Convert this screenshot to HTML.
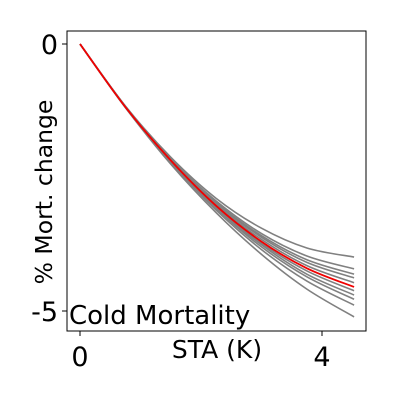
<!DOCTYPE html>
<html><head><meta charset="utf-8"><style>
body{margin:0;background:#fff}
svg{display:block;font-family:"DejaVu Sans","Liberation Sans",sans-serif}
</style></head><body>
<svg id="chart" width="400" height="400" viewBox="0 0 400 400">
<rect x="67" y="31" width="299" height="300" fill="none" stroke="#000" stroke-width="1"/>
<g id="marks"></g>
<g id="axes"></g>
<text x="69" y="324" font-size="26">Cold Mortality</text>
<text x="217" y="358" font-size="25" text-anchor="middle">STA (K)</text>
<text transform="translate(52,192) rotate(-90)" font-size="23.5" text-anchor="middle">% Mort. change</text>
</svg>
<script>
const xValues = [0, 0.75, 1.5, 2.25, 3, 3.75, 4.53];
const greySeries = [
 [0,-1.16,-2.12,-2.89,-3.45,-3.82,-3.99],
 [0,-1.17,-2.15,-2.94,-3.55,-3.97,-4.21],
 [0,-1.17,-2.16,-2.97,-3.59,-4.04,-4.31],
 [0,-1.17,-2.17,-2.98,-3.62,-4.09,-4.38],
 [0,-1.17,-2.18,-3.01,-3.66,-4.15,-4.47],
 [0,-1.18,-2.19,-3.04,-3.73,-4.25,-4.62],
 [0,-1.18,-2.20,-3.06,-3.76,-4.31,-4.70],
 [0,-1.18,-2.21,-3.08,-3.80,-4.36,-4.78],
 [0,-1.19,-2.22,-3.11,-3.85,-4.44,-4.89],
 [0,-1.19,-2.25,-3.16,-3.94,-4.59,-5.11]
];
const redSeries = [0,-1.18,-2.18,-3.03,-3.70,-4.20,-4.55];
const xTicks = [0, 4];
const yTicks = [0, -5];
const xTickLabels = ["0", "4"];
const yTickLabels = ["0", "-5"];

const NS = "http://www.w3.org/2000/svg";
function sx(v){ return 80 + v * 60.5; }
function sy(v){ return 44 - v * 53.4; }
function pathFor(ys){
  const p = xValues.map((x,i)=>[sx(x), sy(ys[i])]);
  let d = "M" + p[0][0] + "," + p[0][1];
  for (let i=0;i<p.length-1;i++){
    const p0=p[Math.max(i-1,0)], p1=p[i], p2=p[i+1], p3=p[Math.min(i+2,p.length-1)];
    const c1x=p1[0]+(p2[0]-p0[0])/6, c1y=p1[1]+(p2[1]-p0[1])/6;
    const c2x=p2[0]-(p3[0]-p1[0])/6, c2y=p2[1]-(p3[1]-p1[1])/6;
    d += " C"+c1x+","+c1y+" "+c2x+","+c2y+" "+p2[0]+","+p2[1];
  }
  return d;
}
const marks = document.getElementById("marks");
greySeries.forEach((s)=>{
  const el = document.createElementNS(NS,"path");
  el.setAttribute("d", pathFor(s));
  el.setAttribute("fill","none");
  el.setAttribute("stroke","#808080");
  el.setAttribute("stroke-width","1.6");
  
  
  marks.appendChild(el);
});
const red = document.createElementNS(NS,"path");
red.setAttribute("d", pathFor(redSeries));
red.setAttribute("fill","none");
red.setAttribute("stroke","#f00000");
red.setAttribute("stroke-width","1.8");


marks.appendChild(red);

const axes = document.getElementById("axes");
xTicks.forEach((t,i)=>{
  const l = document.createElementNS(NS,"line");
  l.setAttribute("x1",sx(t)); l.setAttribute("x2",sx(t));
  l.setAttribute("y1",331); l.setAttribute("y2",336);
  l.setAttribute("stroke","#000");
  
  
  axes.appendChild(l);
  const tx = document.createElementNS(NS,"text");
  tx.setAttribute("x",sx(t)); tx.setAttribute("y",366);
  tx.setAttribute("font-size","27"); tx.setAttribute("text-anchor","middle");
  tx.textContent = xTickLabels[i];
  
  
  axes.appendChild(tx);
});
yTicks.forEach((t,i)=>{
  const l = document.createElementNS(NS,"line");
  l.setAttribute("x1",62); l.setAttribute("x2",67);
  l.setAttribute("y1",sy(t)); l.setAttribute("y2",sy(t));
  l.setAttribute("stroke","#000");
  
  
  axes.appendChild(l);
  const tx = document.createElementNS(NS,"text");
  tx.setAttribute("x",58); tx.setAttribute("y",sy(t)+10);
  tx.setAttribute("font-size","27"); tx.setAttribute("text-anchor","end");
  tx.textContent = yTickLabels[i];
  
  
  axes.appendChild(tx);
});
</script>
</body></html>
